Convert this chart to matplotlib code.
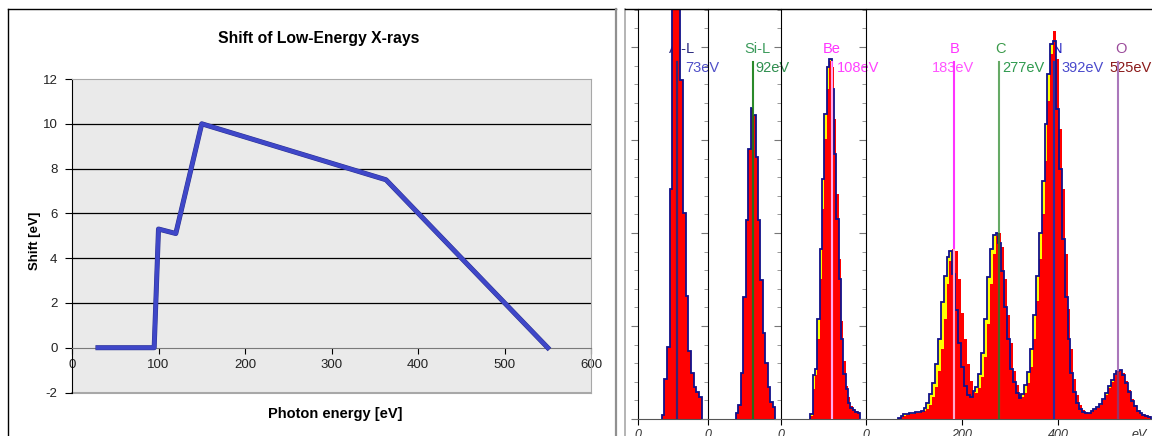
import numpy as np
import matplotlib.pyplot as plt
from matplotlib.lines import Line2D
from matplotlib.ticker import MultipleLocator
from matplotlib.transforms import blended_transform_factory
import matplotlib.patheffects as pe

plt.rcParams['font.family'] = ['Liberation Sans', 'DejaVu Sans']
plt.rcParams['axes.unicode_minus'] = False

# ---- left chart: shift of low-energy x-rays ----
photon_ev = [30, 95, 100, 120, 150, 363, 550]
shift_ev = [0, 0, 5.3, 5.1, 10, 7.5, 0]

# ---- right side: spectra (counts per bin) ----
# panel 1 (Al-L), same spectrum before/after (no shift below 95 eV)
p1_start, p1_step = 44, 5
p1_counts = [4, 40, 72, 230, 440, 480, 430, 339, 206, 123, 68, 46, 32, 27, 22]

# panel 2 (Si-L)
p2_start, p2_step = 57, 5
p2_counts = [6, 14, 46, 122, 199, 270, 311, 304, 262, 199, 139, 86, 56, 32, 17, 12]

# panel 3 (Be)
p3_start, p3_step = 62, 5
p3_blue = [5, 44, 50, 100, 170, 240, 305, 352, 360, 330, 265, 200, 140, 80, 45,
           30, 16, 11, 9, 7, 6]
p3_red = [3, 30, 44, 80, 140, 210, 280, 330, 358, 352, 300, 225, 160, 98, 58,
          33, 22, 13, 10, 8, 7]

# panel 4 (B, C, N, O)
p4_start, p4_step = 66, 6
p4_blue = [1.5, 3, 5, 5.5, 6, 6.5, 7, 7.5, 8.5, 11,
           16, 25, 36, 55, 80, 117, 143, 162, 168, 145,
           109, 76, 52, 33, 24, 22, 28, 32, 45, 66,
           100, 142, 170, 184, 186, 176, 148, 112, 80, 50,
           37, 26, 21, 25, 34, 47, 70, 104, 143, 186,
           238, 295, 345, 375, 378, 310, 250, 180, 122, 80,
           46, 27, 16, 10, 7, 6, 6, 8, 10, 12,
           15, 20, 26, 33, 39, 45, 48, 49, 44, 36,
           27, 18, 13, 8, 6, 4, 3, 2]
p4_red = [1, 2, 3, 4, 5, 5.5, 6, 6.5, 7, 8,
          10, 14, 22, 32, 48, 70, 100, 135, 158, 170,
          168, 140, 106, 80, 55, 38, 27, 26, 31, 42,
          62, 95, 135, 165, 183, 186, 172, 140, 104, 76,
          48, 34, 25, 22, 26, 36, 52, 80, 118, 160,
          205, 258, 318, 365, 388, 360, 290, 230, 165, 110,
          70, 40, 24, 14, 9, 7, 6, 7, 9, 11,
          14, 19, 24, 31, 37, 44, 48, 49, 46, 38,
          29, 20, 14, 9, 6, 5, 4, 3]

# line markers: name, energy, label colours, line colours (above / on red)
p1_marks = [("Al-L", 73, "#2a2a80", "#5050c8", "#2e2a80", "#3a2070")]
p2_marks = [("Si-L", 92, "#3a9a5a", "#2f8f4f", "#2a8a2a", "#2a6a1a")]
p3_marks = [("Be", 108, "#ff33ff", "#ff40ff", "#ff55ff", "#ffaaee")]
p4_marks = [("B", 183, "#ff33ff", "#ff55ff", "#ff33ff", "#ffaacc"),
            ("C", 277, "#3a9a4a", "#2f9a4f", "#66aa66", "#4a6622"),
            ("N", 392, "#2020c0", "#4a4acc", "#3030c0", "#2a2aa0"),
            ("O", 525, "#9a4a9a", "#8b1a1a", "#aa77bb", "#993366")]
# text placement (name centre x, value x, value alignment) in eV
p1_text = [(82, 88, "left")]
p2_text = [(100, 96, "left")]
p3_text = [(108, 118.6, "left")]
p4_text = [(185, 181, "center"), (281, 283, "left"), (398, 408, "left"), (531, 508, "left")]

W, H = 1152, 436
fig = plt.figure(figsize=(W / 100, H / 100), dpi=100)


def fx(px):
    return px / W


def fy(py):
    return 1 - py / H


# frames
fig.add_artist(Line2D([fx(8), fx(8)], [fy(9), 0], color="black", lw=1))
fig.add_artist(Line2D([fx(8), fx(616)], [fy(9), fy(9)], color="black", lw=1))
fig.add_artist(Line2D([fx(616), fx(616)], [fy(9), 0], color="#909090", lw=1.6))
fig.add_artist(Line2D([fx(625), fx(625)], [fy(9), 0], color="#a8a8a8", lw=1.2))
fig.add_artist(Line2D([fx(625), 1], [fy(9), fy(9)], color="black", lw=1))

# ---- left chart ----
ax = fig.add_axes([fx(72), fy(392.5), fx(591) - fx(72), fy(79) - fy(392.5)])
ax.set_facecolor("#EAEAEA")
ax.set_xlim(0, 600)
ax.set_ylim(-2, 12)
ax.set_xticks(range(0, 601, 100))
ax.set_yticks(range(-2, 13, 2))
ax.spines["bottom"].set_position(("data", 0))
ax.spines["bottom"].set_color("#7a7a7a")
ax.spines["top"].set_color("#a8a8a8")
ax.spines["right"].set_color("#a8a8a8")
ax.spines["left"].set_color("black")
ax.axhline(-2, color="#a8a8a8", lw=1.5, clip_on=False, zorder=1)
for g in range(2, 11, 2):
    ax.axhline(g, color="black", lw=0.9, zorder=1)
ax.tick_params(axis="x", length=4, pad=4, labelsize=9.5, labelcolor="#222222")
ax.tick_params(axis="y", length=5, pad=5.5, labelsize=9.5, labelcolor="#222222")
ax.plot(photon_ev, shift_ev, color="#3F47C8", lw=2.9, zorder=3,
        path_effects=[pe.Stroke(linewidth=3.6, foreground="#2B3190"), pe.Normal()])

fig.text(fx(319), fy(38.5), "Shift of Low-Energy X-rays", ha="center", va="center",
         fontsize=11.3, fontweight="bold")
fig.text(fx(35), fy(241), "Shift [eV]", rotation=90, ha="center", va="center",
         fontsize=9.5, fontweight="bold")
fig.text(fx(335), fy(414), "Photon energy [eV]", ha="center", va="center",
         fontsize=10.5, fontweight="bold")


# ---- spectrum panels ----
def panel(x0, x1, xmax, start, step, blue, red, marks, texts, xt, xl):
    a = fig.add_axes([fx(x0), fy(419), fx(x1) - fx(x0), fy(9) - fy(419)])
    a.patch.set_alpha(0)
    a.set_xlim(0, xmax)
    a.set_ylim(0, 410)
    a.spines["top"].set_visible(False)
    a.spines["right"].set_visible(False)
    a.spines["bottom"].set_color("#555555")
    a.yaxis.set_major_locator(MultipleLocator(93))
    a.yaxis.set_minor_locator(MultipleLocator(18.6))
    a.tick_params(axis="y", which="major", length=5, color="#777777", labelleft=False)
    a.tick_params(axis="y", which="minor", length=3, color="#888888")
    a.set_xticks(xt)
    a.set_xticklabels(xl, fontstyle="italic", fontsize=9, color="#333333")
    a.tick_params(axis="x", length=4, pad=3)
    if "eV" in xl:
        a.xaxis.get_major_ticks()[-1].tick1line.set_visible(False)

    edges = start + step * np.arange(len(blue) + 1)
    a.stairs(blue, edges, fill=True, color="#ffff00", lw=0, zorder=2)
    rp = a.stairs(red, edges, fill=True, color="#ff0000", lw=0, zorder=2.5)
    a.stairs(blue, edges, fill=False, color="#10108a", lw=1.3, zorder=3)

    tr = blended_transform_factory(a.transData, a.transAxes)
    for (name, en, c_name, c_val, c_line, c_red), (nx, vx, ha) in zip(marks, texts):
        a.axvline(en, ymax=0.871, color=c_line, lw=1.5, zorder=4)
        l2 = a.axvline(en, ymax=0.871, color=c_red, lw=1.5, zorder=5)
        l2.set_clip_path(rp)
        a.text(nx, 0.902, name, transform=tr, ha="center", va="center",
               color=c_name, fontsize=10.5, zorder=1, clip_on=False)
        a.text(vx, 0.856, f"{en}eV", transform=tr, ha=ha, va="center",
               color=c_val, fontsize=10.5, zorder=1, clip_on=False)
    return a


panel(638, 708, 131, p1_start, p1_step, p1_counts, p1_counts, p1_marks, p1_text, [0], ["0"])
panel(708, 781, 149, p2_start, p2_step, p2_counts, p2_counts, p2_marks, p2_text, [0], ["0"])
panel(781, 866, 180, p3_start, p3_step, p3_blue, p3_red, p3_marks, p3_text, [0], ["0"])
panel(866, 1152, 596, p4_start, p4_step, p4_blue, p4_red, p4_marks, p4_text,
      [0, 200, 400, 569], ["0", "200", "400", "eV"])

fig.savefig("out.png", dpi=100)
